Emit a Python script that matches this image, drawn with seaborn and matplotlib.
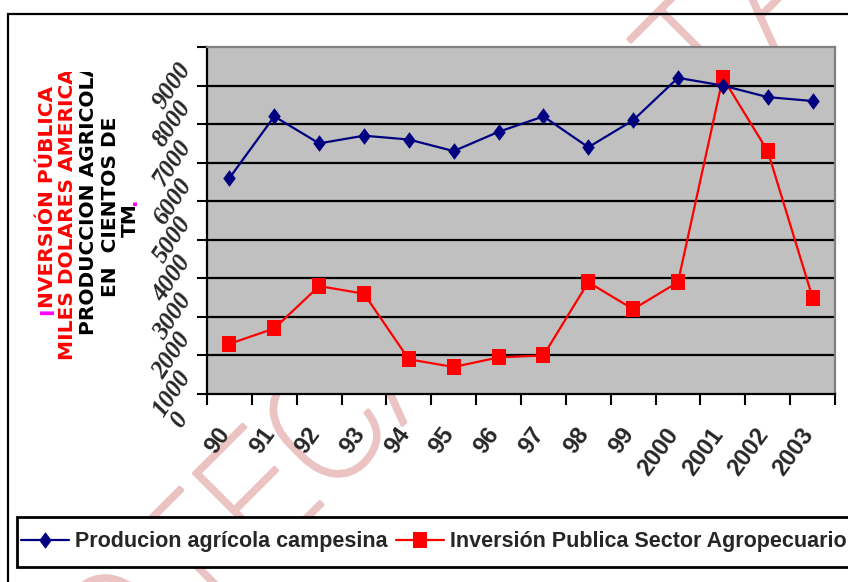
import numpy as np
import pandas as pd
import matplotlib.pyplot as plt
import seaborn as sns
import matplotlib.patheffects as pe
from matplotlib.path import Path
from matplotlib.patches import Rectangle
from matplotlib.transforms import ScaledTranslation

# Datos
anios = ["90", "91", "92", "93", "94", "95", "96", "97", "98", "99",
         "2000", "2001", "2002", "2003"]
produccion = [6600, 8200, 7500, 7700, 7600, 7300, 7800, 8200, 7400, 8100,
              9200, 9000, 8700, 8600]
inversion = [2300, 2700, 3800, 3600, 1900, 1700, 1950, 2000, 3900, 3200,
             3900, 9200, 7300, 3500]
y_ticks = [1000, 2000, 3000, 4000, 5000, 6000, 7000, 8000, 9000, 10000]
y_labels = ["1000", "2000", "3000", "4000", "5000", "6000", "7000", "8000", "9000", ""]

serie_a = "Producion agrícola campesina"
serie_b = "Inversión Publica Sector Agropecuario"

dados = pd.DataFrame({"pos": np.arange(len(anios)), "anio": anios,
                      serie_a: produccion, serie_b: inversion})

sns.set_style("white")
plt.rcParams["font.family"] = ["Liberation Sans", "DejaVu Sans"]

W, H = 848, 582
fig = plt.figure(figsize=(W / 100, H / 100), dpi=100)


def fx(x):
    return x / W


def fy(y):
    return 1 - y / H


# marca de agua (detras de todo)
fig.text(fx(352), fy(414), "BIBLIOTECA DIGITAL", rotation=45, rotation_mode="anchor",
         ha="center", va="center", fontsize=115, family="Roboto", fontweight="light",
         color="#ebc3c3", zorder=-5,
         path_effects=[pe.withStroke(linewidth=2.5, foreground="#ebc3c3")])

# marco exterior
fig.patches.append(Rectangle((fx(8), fy(620)), fx(900) - fx(8), fy(14) - fy(620),
                             transform=fig.transFigure, fill=False, edgecolor="black",
                             linewidth=1.6, zorder=1))

ax = fig.add_axes([fx(207), fy(394), fx(835) - fx(207), fy(47) - fy(394)])
ax.set_facecolor("#c0c0c0")

diamante = Path([(0, 1), (0.75, 0), (0, -1), (-0.75, 0), (0, 1)],
                [Path.MOVETO, Path.LINETO, Path.LINETO, Path.LINETO, Path.CLOSEPOLY])
cuadro = Path([(-0.85, -1), (0.85, -1), (0.85, 1), (-0.85, 1), (-0.85, -1)],
              [Path.MOVETO, Path.LINETO, Path.LINETO, Path.LINETO, Path.CLOSEPOLY])

sns.lineplot(data=dados, x="pos", y=serie_a, ax=ax, color="#000080", linewidth=1.6,
             marker=diamante, markersize=12, markeredgewidth=0, label=serie_a, zorder=4)
sns.lineplot(data=dados, x="pos", y=serie_b, ax=ax, color="#ff0000", linewidth=1.6,
             marker=cuadro, markersize=12, markeredgewidth=0, label=serie_b, zorder=3)

ax.set_xlim(-0.5, len(anios) - 0.5)
ax.set_ylim(1000, 10000)
ax.set_xlabel("")
ax.set_ylabel("")

# cuadricula horizontal negra
for v in y_ticks[1:-1]:
    ax.axhline(v, color="black", linewidth=1.6, zorder=2)

ax.set_yticks(y_ticks)
ax.set_yticklabels(y_labels, rotation=56, ha="right", va="center",
                   family="Liberation Serif", fontweight="bold", style="italic", fontsize=18)
ax.tick_params(axis="y", direction="out", length=7, width=1.5, color="black", pad=1, left=True)

ax.set_xticks(np.arange(len(anios) + 1) - 0.5)
ax.set_xticklabels([])
ax.tick_params(axis="x", which="major", direction="out", length=8, width=1.5,
               color="black", bottom=True)
ax.set_xticks(np.arange(len(anios)), minor=True)
ax.set_xticklabels(anios, minor=True, rotation=54, rotation_mode="anchor",
                   ha="right", va="center", fontweight="bold", fontsize=17)
ax.tick_params(axis="x", which="minor", length=0, pad=26)
for lab in ax.get_xticklabels(minor=True):
    lab.set_transform(lab.get_transform() + ScaledTranslation(-0.04, 0, fig.dpi_scale_trans))

# etiqueta "0" suelta bajo el eje, como en el original
ax.text(-0.024, 330, "0", transform=ax.get_yaxis_transform(), rotation=56,
        ha="right", va="center", family="Liberation Serif", fontweight="bold",
        style="italic", fontsize=18, clip_on=False)

for s in ["left", "bottom"]:
    ax.spines[s].set_color("black")
    ax.spines[s].set_linewidth(1.6)
for s in ["top", "right"]:
    ax.spines[s].set_color("#808080")
    ax.spines[s].set_linewidth(1.6)

# titulos del eje y (texto vertical)
clip = Rectangle((0, fy(582)), 1, fy(72) - fy(582), transform=fig.transFigure,
                 visible=False)
fig.patches.append(clip)
tit = dict(rotation=90, ha="center", va="bottom", fontweight="bold", fontsize=14.5,
           family="DejaVu Sans")
t_i = fig.text(fx(48), fy(315), "I", color="#ff00ff", **tit)
fig.canvas.draw()
top_i = t_i.get_window_extent().y1
fig.text(fx(48), top_i / H, "NVERSIÓN PÚBLICA", color="#ff0000", **tit)
t2 = fig.text(fx(68), fy(360), "MILES DOLARES AMERICANOS", color="#ff0000", **tit)
t3 = fig.text(fx(89), fy(335), "PRODUCCION AGRICOLA", color="black", **tit)
t2.set_clip_path(clip)
t3.set_clip_path(clip)
fig.text(fx(110), fy(297), "EN  CIENTOS DE", color="black", **tit)
t_tm = fig.text(fx(130), fy(237), "TM", color="black", **tit)
fig.canvas.draw()
fig.text(fx(131), (t_tm.get_window_extent().y1 - 2) / H, ".", color="#ff00ff", **tit)

# leyenda con recuadro
fig.patches.append(Rectangle((fx(17), fy(567)), fx(900) - fx(17), fy(517) - fy(567),
                             transform=fig.transFigure, facecolor="white",
                             edgecolor="black", linewidth=2, zorder=2))
handles, labels = ax.get_legend_handles_labels()
ax.get_legend().remove()
fig.legend(handles, labels, loc="center left", bbox_to_anchor=(fx(17), fy(542)),
           ncol=2, frameon=False, handlelength=2.2, handletextpad=0.3,
           columnspacing=0.4, borderaxespad=0, borderpad=0.2,
           prop={"weight": "bold", "size": 15.5})

fig.savefig("out.png", dpi=100)
